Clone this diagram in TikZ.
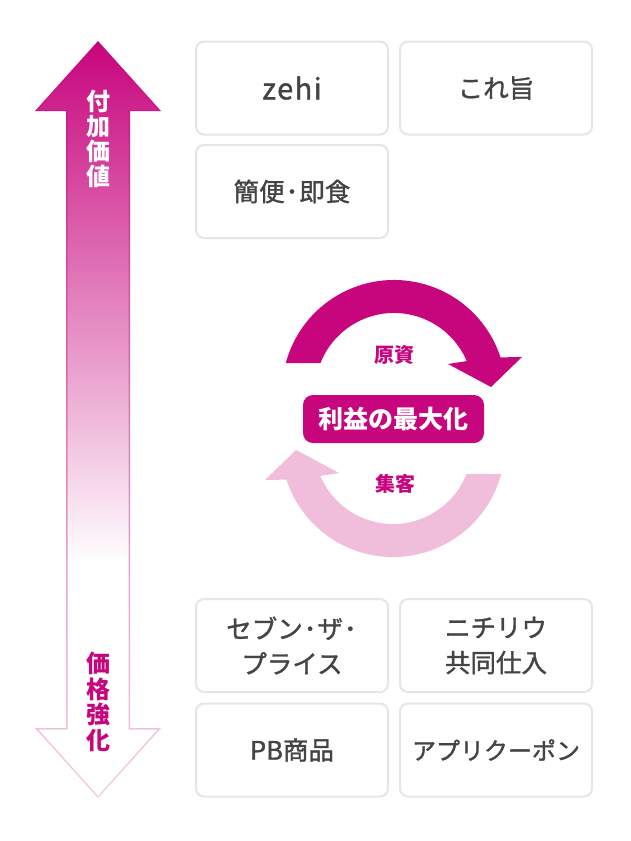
\documentclass[tikz,border=0pt]{standalone}
\usepackage{fontspec}
\newfontfamily\jp{Noto Sans CJK JP}
\newfontfamily\jpm[FakeBold=1.3]{Noto Sans CJK JP}
\definecolor{mag}{HTML}{C7057D}
\definecolor{lightmag}{HTML}{F0BDDB}
\definecolor{boxline}{HTML}{E6E6E6}
\definecolor{boxtext}{HTML}{444444}
\definecolor{edgemid}{HTML}{E9A3CD}
\definecolor{edgelow}{HTML}{F2CCE3}
\pgfdeclareverticalshading{arrowfill}{100bp}{color(0bp)=(white); color(40.4bp)=(white); color(75bp)=(mag); color(100bp)=(mag)}
\pgfdeclareverticalshading{arrowedge}{100bp}{color(0bp)=(edgelow); color(25bp)=(edgelow); color(40.4bp)=(edgemid); color(75bp)=(mag); color(100bp)=(mag)}
\tikzset{
  itembox/.style={draw=boxline, line width=2pt, rounded corners=8pt, fill=white,
    minimum width=192pt, minimum height=93pt, inner sep=0pt,
    font=\jpm\fontsize{25.5}{35}\selectfont, text=boxtext, align=center},
  centerlabel/.style={fill=mag, rounded corners=10pt, minimum width=181pt, minimum height=48pt,
    inner sep=0pt, text=white, font=\jp\bfseries\fontsize{25}{30}\selectfont},
  cyclelabel/.style={text=mag, font=\jp\bfseries\fontsize{20}{24}\selectfont, inner sep=0pt},
  vertlabel/.style={align=center, inner sep=0pt, font=\jp\bfseries\fontsize{24}{25}\selectfont},
}
\newcommand{\hdot}{\kern1pt･\kern1pt}
\begin{document}
\begin{tikzpicture}[x=1pt, y=-1pt]
\useasboundingbox (0,0) rectangle (630,841);
\fill[white] (0,0) rectangle (630,841);

% vertical arrow
\shade[shading=arrowedge] (98,41) -- (161,111) -- (130,111) -- (130,728) -- (161,728)
  -- (98,798) -- (35,728) -- (66,728) -- (66,111) -- (35,111) -- cycle;
\shade[shading=arrowfill] (98,43.2) -- (157.6,109.5) -- (128.5,109.5) -- (128.5,729.5) -- (157.6,729.5)
  -- (98,795.8) -- (38.4,729.5) -- (67.5,729.5) -- (67.5,109.5) -- (38.4,109.5) -- cycle;

\node[vertlabel, text=white] (up) at (98,138.5) {付\\加\\価\\値};
\node[vertlabel, text=mag, font=\jp\bfseries\fontsize{24}{25.6}\selectfont] (down) at (98,702) {価\\格\\強\\化};

% item boxes
\node[itembox, font=\jpm\fontsize{29}{35}\selectfont\addfontfeature{LetterSpace=5}] (zehi) at (292,88) {zehi};
\node[itembox] (kore) at (496,88) {これ旨};
\node[itembox] (kanben) at (292,191.5) {簡便\hdot 即食};
\node[itembox] (seven) at (292,645.5) {セブン\hdot ザ\hdot\\プライス};
\node[itembox] (nichi) at (496,645.5) {ニチリウ\\共同仕入};
\node[itembox] (pb) at (292,750) {PB商品};
\node[itembox, font=\jpm\fontsize{24}{35}\selectfont] (app) at (496,750) {アプリクーポン};

% cycle arrows
\fill[mag] (285.8,363) arc[start angle=195, end angle=342, radius=112]
  -- (522,357) -- (491,387) -- (448,364) -- (466.7,361.1)
  arc[start angle=337, end angle=201.5, radius=79] -- cycle;
\fill[lightmag, rotate around={180:(393.5,418.5)}] (285.8,363) arc[start angle=195, end angle=342, radius=112]
  -- (522,357) -- (491,387) -- (448,364) -- (466.7,361.1)
  arc[start angle=337, end angle=201.5, radius=79] -- cycle;

\node[cyclelabel] (genshi) at (394,355) {原資};
\node[cyclelabel] (shukyaku) at (395,484) {集客};
\node[centerlabel] (rieki) at (393.5,419) {利益の最大化};
\end{tikzpicture}
\end{document}
